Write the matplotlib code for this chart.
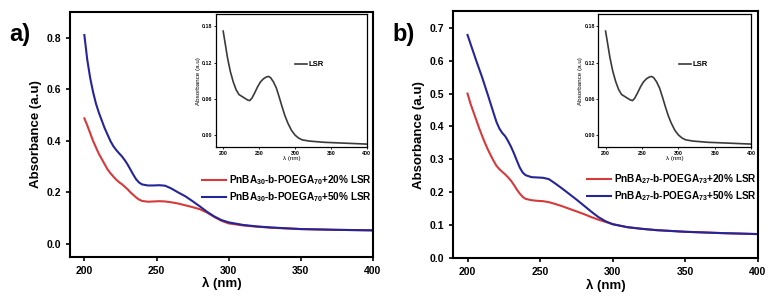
import numpy as np
import matplotlib
matplotlib.use('Agg')
import matplotlib.pyplot as plt

plt.rcParams['font.family'] = ['Liberation Sans', 'DejaVu Sans']
plt.rcParams['font.weight'] = 'bold'
plt.rcParams['mathtext.fontset'] = 'custom'
plt.rcParams['mathtext.rm'] = 'Liberation Sans:bold'
plt.rcParams['mathtext.it'] = 'Liberation Sans:bold'
plt.rcParams['mathtext.bf'] = 'Liberation Sans:bold'

# wavelengths shared by both main panels
wl = [200, 202, 204, 206, 208, 210, 212, 214, 216, 218, 220, 222, 224, 226, 228, 230,
      232, 234, 236, 238, 240, 244, 248, 252, 256, 260, 265, 270, 275, 280, 285, 290,
      295, 300, 310, 320, 330, 350, 375, 400]

# panel a
red_a = [0.487, 0.46, 0.43, 0.40, 0.375, 0.35, 0.33, 0.31, 0.29, 0.275, 0.262, 0.25,
         0.24, 0.232, 0.222, 0.212, 0.20, 0.19, 0.18, 0.172, 0.167,
         0.164, 0.165, 0.166, 0.165,
         0.162, 0.157, 0.15, 0.143, 0.135, 0.122, 0.105, 0.09, 0.08,
         0.072, 0.067, 0.063, 0.058, 0.055, 0.053]
blue_a = [0.81, 0.715, 0.645, 0.59, 0.545, 0.51, 0.48, 0.45, 0.425, 0.40, 0.38, 0.365,
          0.352, 0.34, 0.325, 0.308, 0.288, 0.268, 0.25, 0.238, 0.231,
          0.227, 0.227, 0.228, 0.226,
          0.216, 0.2, 0.185, 0.166, 0.146, 0.125, 0.107, 0.093, 0.084,
          0.074, 0.068, 0.064, 0.058, 0.055, 0.053]

# panel b
red_b = [0.50, 0.47, 0.445, 0.42, 0.395, 0.372, 0.35, 0.33, 0.312, 0.295, 0.28, 0.27,
         0.262, 0.254, 0.245, 0.235, 0.222, 0.208, 0.196, 0.186, 0.18,
         0.176, 0.174, 0.173, 0.17,
         0.165, 0.158, 0.15, 0.142, 0.134, 0.125, 0.117, 0.11, 0.103,
         0.094, 0.089, 0.085, 0.08, 0.076, 0.073]
blue_b = [0.678, 0.652, 0.626, 0.60, 0.575, 0.55, 0.523, 0.496, 0.468, 0.44, 0.413,
          0.393, 0.38, 0.37, 0.355, 0.338, 0.318, 0.296, 0.275, 0.26, 0.252,
          0.246, 0.245, 0.244, 0.24,
          0.228, 0.212, 0.195, 0.178, 0.16, 0.142, 0.125, 0.112, 0.103,
          0.094, 0.089, 0.085, 0.08, 0.076, 0.073]

# inset (LSR)
wl_lsr = [200, 203, 206, 210, 214, 218, 222, 226, 230, 234, 237, 240, 244, 248, 252,
          256, 260, 263, 266, 270, 274, 278, 282, 286, 290, 295, 300, 305, 310, 320,
          340, 360, 380, 400]
lsr = [0.172, 0.15, 0.128, 0.105, 0.088, 0.075, 0.067, 0.064, 0.061, 0.058, 0.057,
       0.061, 0.070, 0.080, 0.088, 0.093, 0.096, 0.097, 0.095, 0.088, 0.078, 0.063,
       0.047, 0.032, 0.020, 0.008, 0.000, -0.005, -0.008, -0.010, -0.012, -0.013,
       -0.014, -0.015]

lab_a = [r'PnBA$_{30}$-b-POEGA$_{70}$+20% LSR', r'PnBA$_{30}$-b-POEGA$_{70}$+50% LSR']
lab_b = [r'PnBA$_{27}$-b-POEGA$_{73}$+20% LSR', r'PnBA$_{27}$-b-POEGA$_{73}$+50% LSR']

red = '#d63a3a'
blue = '#25259a'

fig = plt.figure(figsize=(7.77, 2.96), dpi=100)


def main_panel(rect, red_y, blue_y, labels, ylim, yticks, letter, letter_x, leg_y):
    ax = fig.add_axes(rect)
    ax.plot(wl, red_y, color=red, lw=1.5, label=labels[0])
    ax.plot(wl, blue_y, color=blue, lw=1.5, label=labels[1])
    ax.set_xlim(190, 400)
    ax.set_ylim(*ylim)
    ax.set_xticks([200, 250, 300, 350, 400])
    ax.set_yticks(yticks)
    ax.set_yticklabels(['%.1f' % t for t in yticks])
    ax.tick_params(labelsize=7.5, width=1.2, length=3)
    for s in ax.spines.values():
        s.set_linewidth(1.5)
    ax.set_xlabel('λ (nm)', fontsize=9.5, fontweight='bold', labelpad=1)
    ax.set_ylabel('Absorbance (a.u)', fontsize=9.5, fontweight='bold', labelpad=3)
    ax.legend(loc='center right', bbox_to_anchor=(1.025, leg_y), frameon=False,
              fontsize=7.2, handlelength=2.4, handletextpad=0.25, labelspacing=0.35)
    fig.text(letter_x, 0.86, letter, fontsize=17, fontweight='bold')
    return ax


def inset(rect):
    ax = fig.add_axes(rect)
    ax.plot(wl_lsr, lsr, color='#3a3a3a', lw=1.2, label='LSR')
    ax.set_xlim(190, 400)
    ax.set_ylim(-0.02, 0.2)
    ax.set_xticks([200, 250, 300, 350, 400])
    ax.set_yticks([0.0, 0.06, 0.12, 0.18])
    ax.set_yticklabels(['0.00', '0.06', '0.12', '0.18'])
    ax.tick_params(labelsize=3.8, width=0.6, length=1.5, pad=1)
    for s in ax.spines.values():
        s.set_linewidth(0.9)
    ax.set_xlabel('λ (nm)', fontsize=4.5, labelpad=0.5)
    ax.set_ylabel('Absorbance (a.u)', fontsize=4.5, labelpad=1)
    ax.legend(loc='center left', bbox_to_anchor=(0.48, 0.62), frameon=False,
              fontsize=5.5, handlelength=1.6, handletextpad=0.2)
    return ax


main_panel([0.090, 0.132, 0.390, 0.828], red_a, blue_a, lab_a, (-0.05, 0.9),
           [0.0, 0.2, 0.4, 0.6, 0.8], 'a)', 0.012, 0.278)
main_panel([0.583, 0.128, 0.3925, 0.834], red_b, blue_b, lab_b, (0.0, 0.75),
           [0.0, 0.1, 0.2, 0.3, 0.4, 0.5, 0.6, 0.7], 'b)', 0.505, 0.285)
inset([0.278, 0.503, 0.194, 0.449])
inset([0.770, 0.503, 0.197, 0.449])

fig.savefig('out.png', dpi=100)
